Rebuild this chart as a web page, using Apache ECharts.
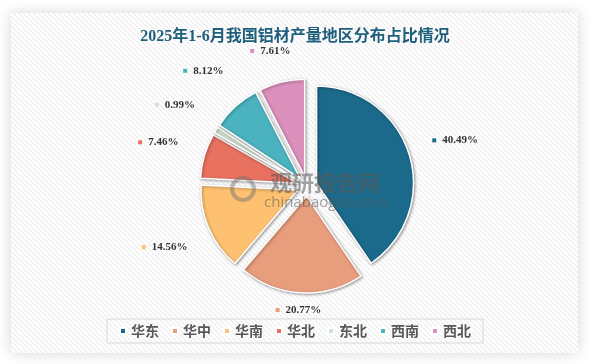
<!DOCTYPE html>
<html>
<head>
<meta charset="utf-8">
<script src="https://cdn.jsdelivr.net/npm/echarts@6/dist/echarts.min.js"></script>
<style>
html,body{margin:0;padding:0;background:#fff;}
#c{width:590px;height:364px;}
</style>
</head>
<body>
<div id="c"></div>
<script>
const regions = ['华东','华中','华南','华北','东北','西南','西北'];
const shares = [40.49, 20.77, 14.56, 7.46, 0.99, 8.12, 7.61];
const colors = ['#1b6a8b','#e89d7d','#fec172','#e8715f','#d0e4cf','#4ab3bf','#dc90bc'];
const titleText = '2025年1-6月我国铝材产量地区分布占比情况';

// stripe pattern for panel
const pc = document.createElement('canvas');
pc.width = 5; pc.height = 5;
const g = pc.getContext('2d');
g.fillStyle = '#ffffff'; g.fillRect(0,0,5,5);
g.strokeStyle = '#ececec'; g.lineWidth = 1.2;
g.beginPath();
g.moveTo(-1,-1); g.lineTo(6,6);
g.moveTo(-1,4); g.lineTo(1,6);
g.moveTo(4,-1); g.lineTo(6,1);
g.stroke();

const chart = echarts.init(document.getElementById('c'), null, {renderer:'canvas'});

const pieData = regions.map((n,i)=>({name:n, value:shares[i], selected:true, itemStyle:{color:colors[i]}}));
const labelData = regions.map((n,i)=>({name:n, value:shares[i]}));

const rich = {
  v:{fontFamily:"'Liberation Serif', serif", fontWeight:'bold', fontSize:11, color:'#333'},
  s:{width:6, height:4}
};
colors.forEach((c,i)=>{ rich['m'+i] = {width:4, height:4, backgroundColor:c}; });

const center = [307, 186];

chart.setOption({
  backgroundColor:'#ffffff',
  animation:false,
  title:{
    text:titleText, left:'center', top:24, z:1,
    textStyle:{fontFamily:"'Liberation Serif','Noto Sans CJK SC'", fontWeight:'bold', fontSize:16, color:'#1f5f7c'}
  },
  legend:{
    data:regions, left:'center', top:319,
    icon:'rect', itemWidth:6, itemHeight:6, itemGap:12,
    borderColor:'#d9d9d9', borderWidth:1, padding:[5,12],
    textStyle:{fontFamily:"'Noto Sans CJK SC'", fontSize:14, fontWeight:'bold', color:'#595959'},
    selectedMode:false
  },
  graphic:[
    {type:'rect', z:-10, silent:true, shape:{x:11,y:13,width:567,height:340},
     style:{fill:{image:pc, repeat:'repeat'}, shadowBlur:14, shadowColor:'rgba(0,0,0,0.16)'}},
    {type:'text', z:100, silent:true, left:270, top:172,
     style:{text:'观研报告网', fontFamily:"'Noto Sans CJK SC'", fontWeight:'bold', fontSize:22, fill:'rgba(90,90,90,0.55)'}},
    {type:'text', z:100, silent:true, left:264, top:195,
     style:{text:'chinabaogao.com', fontFamily:"'Open Sans', sans-serif", fontSize:15, fill:'rgba(90,90,90,0.55)'}},
    {type:'circle', z:100, silent:true, shape:{cx:243, cy:189, r:11},
     style:{fill:'none', stroke:'rgba(110,110,110,0.45)', lineWidth:4}}
  ],
  series:[
    {
      type:'pie', center:center, radius:97,
      selectedMode:'multiple', selectedOffset:10,
      startAngle:90, clockwise:true,
      label:{show:false}, labelLine:{show:false},
      itemStyle:{borderColor:'#fff', borderWidth:1.5, shadowBlur:3, shadowColor:'rgba(0,0,0,0.35)', shadowOffsetX:1, shadowOffsetY:1},
      emphasis:{disabled:true},
      select:{itemStyle:{borderColor:'#fff', borderWidth:1.5}},
      data:pieData
    },
    {
      type:'pie', center:center, radius:[142,162], silent:true, z:5,
      startAngle:90, clockwise:true,
      itemStyle:{color:'transparent', borderWidth:0},
      emphasis:{disabled:true},
      labelLine:{show:false},
      label:{show:true, position:'inside', formatter:p=>'{m'+p.dataIndex+'|}{s|}{v|'+p.value.toFixed(2)+'%}', rich:rich},
      labelLayout:function(p){
        const top = 45, bottomLim = 316;
        const r = p.labelRect;
        if (r.y + r.height > bottomLim) return {dy: bottomLim - (r.y + r.height)};
        if (r.y < top) return {dy: top - r.y};
        return {};
      },
      data:labelData
    }
  ]
});
</script>
</body>
</html>
